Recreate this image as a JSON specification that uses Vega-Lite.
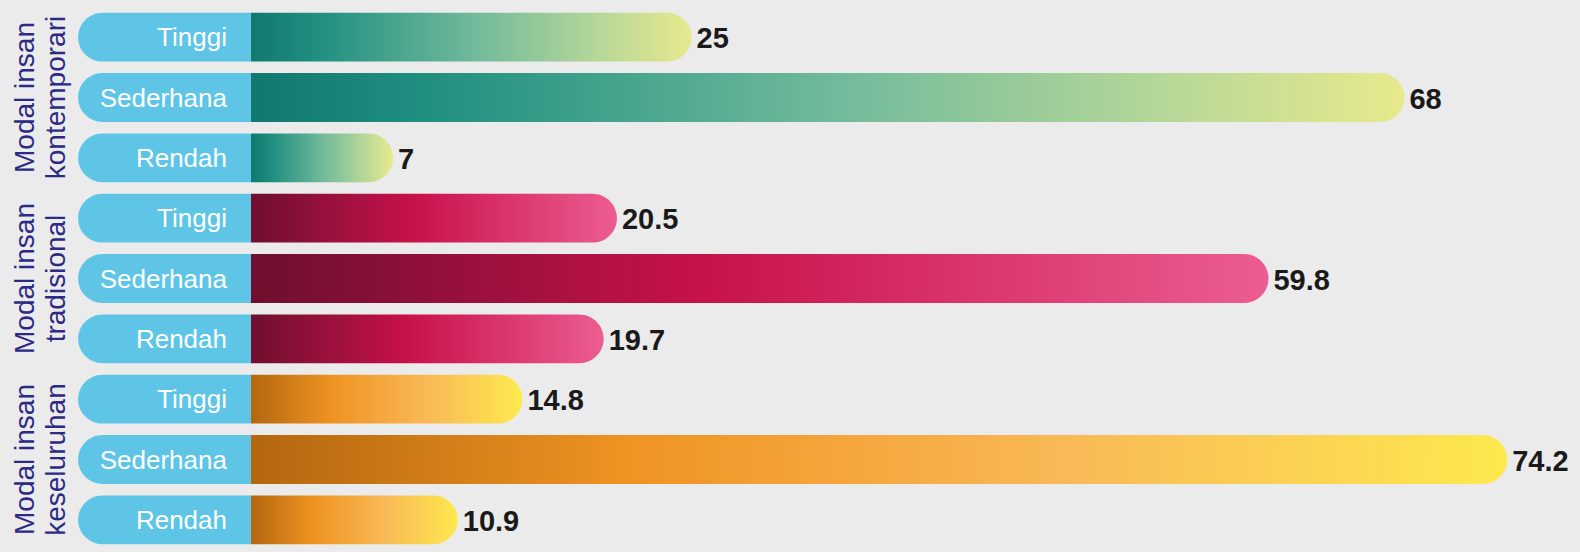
{
  "$schema": "https://vega.github.io/schema/vega-lite/v6.json",
  "width": 1580,
  "height": 543,
  "autosize": {"type": "none"},
  "padding": {"top": 7, "left": 0, "right": 0, "bottom": 2},
  "background": "#ebebeb",
  "config": {"view": {"stroke": null}, "font": "Liberation Sans"},
  "data": {
    "values": [
      {"row": "1", "group": "kontemporari", "grp": "Modal insan\nkontemporari", "level": "Tinggi", "value": 25},
      {"row": "2", "group": "kontemporari", "grp": "Modal insan\nkontemporari", "level": "Sederhana", "value": 68},
      {"row": "3", "group": "kontemporari", "grp": "Modal insan\nkontemporari", "level": "Rendah", "value": 7},
      {"row": "4", "group": "tradisional", "grp": "Modal insan\ntradisional", "level": "Tinggi", "value": 20.5},
      {"row": "5", "group": "tradisional", "grp": "Modal insan\ntradisional", "level": "Sederhana", "value": 59.8},
      {"row": "6", "group": "tradisional", "grp": "Modal insan\ntradisional", "level": "Rendah", "value": 19.7},
      {"row": "7", "group": "keseluruhan", "grp": "Modal insan\nkeseluruhan", "level": "Tinggi", "value": 14.8},
      {"row": "8", "group": "keseluruhan", "grp": "Modal insan\nkeseluruhan", "level": "Sederhana", "value": 74.2},
      {"row": "9", "group": "keseluruhan", "grp": "Modal insan\nkeseluruhan", "level": "Rendah", "value": 10.9}
    ]
  },
  "encoding": {
    "y": {
      "field": "row",
      "type": "nominal",
      "axis": null,
      "scale": {"domain": ["1","2","3","4","5","6","7","8","9"], "paddingInner": 0.19, "paddingOuter": 0.095}
    }
  },
  "layer": [
    {
      "mark": {"type": "bar", "fill": "#5ec5e6", "cornerRadiusTopLeft": 24.5, "cornerRadiusBottomLeft": 24.5},
      "encoding": {
        "x": {"datum": -12.0, "type": "quantitative", "scale": {"domain": [-16.71, 78.59], "zero": false, "nice": false}, "axis": null},
        "x2": {"datum": -1.57}
      }
    },
    {
      "mark": {"type": "text", "align": "right", "baseline": "middle", "dy": 1, "fill": "#ffffff", "fontSize": 26},
      "encoding": {
        "x": {"datum": -3.02, "type": "quantitative"},
        "text": {"field": "level"}
      }
    },
    {
      "transform": [{"filter": "datum.group === 'kontemporari'"}],
      "mark": {
        "type": "bar",
        "cornerRadiusTopRight": 24.5,
        "cornerRadiusBottomRight": 24.5,
        "fill": {
          "gradient": "linear", "x1": 0, "y1": 0, "x2": 1, "y2": 0,
          "stops": [
            {"offset": 0, "color": "#11786f"},
            {"offset": 0.15, "color": "#1f8f80"},
            {"offset": 0.5, "color": "#6fb99b"},
            {"offset": 0.8, "color": "#b8d898"},
            {"offset": 1, "color": "#e8e98c"}
          ]
        }
      },
      "encoding": {
        "x": {"field": "value", "type": "quantitative"},
        "x2": {"datum": -1.57}
      }
    },
    {
      "transform": [{"filter": "datum.group === 'tradisional'"}],
      "mark": {
        "type": "bar",
        "cornerRadiusTopRight": 24.5,
        "cornerRadiusBottomRight": 24.5,
        "fill": {
          "gradient": "linear", "x1": 0, "y1": 0, "x2": 1, "y2": 0,
          "stops": [
            {"offset": 0, "color": "#6e0f2e"},
            {"offset": 0.45, "color": "#c8124a"},
            {"offset": 1, "color": "#ec5d92"}
          ]
        }
      },
      "encoding": {
        "x": {"field": "value", "type": "quantitative"},
        "x2": {"datum": -1.57}
      }
    },
    {
      "transform": [{"filter": "datum.group === 'keseluruhan'"}],
      "mark": {
        "type": "bar",
        "cornerRadiusTopRight": 24.5,
        "cornerRadiusBottomRight": 24.5,
        "fill": {
          "gradient": "linear", "x1": 0, "y1": 0, "x2": 1, "y2": 0,
          "stops": [
            {"offset": 0, "color": "#b3670f"},
            {"offset": 0.3, "color": "#ef9322"},
            {"offset": 0.65, "color": "#f9b957"},
            {"offset": 1, "color": "#fde94e"}
          ]
        }
      },
      "encoding": {
        "x": {"field": "value", "type": "quantitative"},
        "x2": {"datum": -1.57}
      }
    },
    {
      "mark": {"type": "text", "align": "left", "baseline": "middle", "dx": 5, "dy": 2, "fontSize": 29, "fontWeight": "bold", "fill": "#1a1a1a"},
      "encoding": {
        "x": {"field": "value", "type": "quantitative"},
        "text": {"field": "value", "type": "quantitative"}
      }
    },
    {
      "transform": [{"filter": "datum.level === 'Sederhana'"}],
      "mark": {"type": "text", "align": "center", "baseline": "middle", "angle": 270, "lineBreak": "\n", "fontSize": 28, "lineHeight": 31, "fill": "#2b2a85"},
      "encoding": {
        "x": {"datum": -15.14, "type": "quantitative"},
        "text": {"field": "grp"}
      }
    }
  ]
}
